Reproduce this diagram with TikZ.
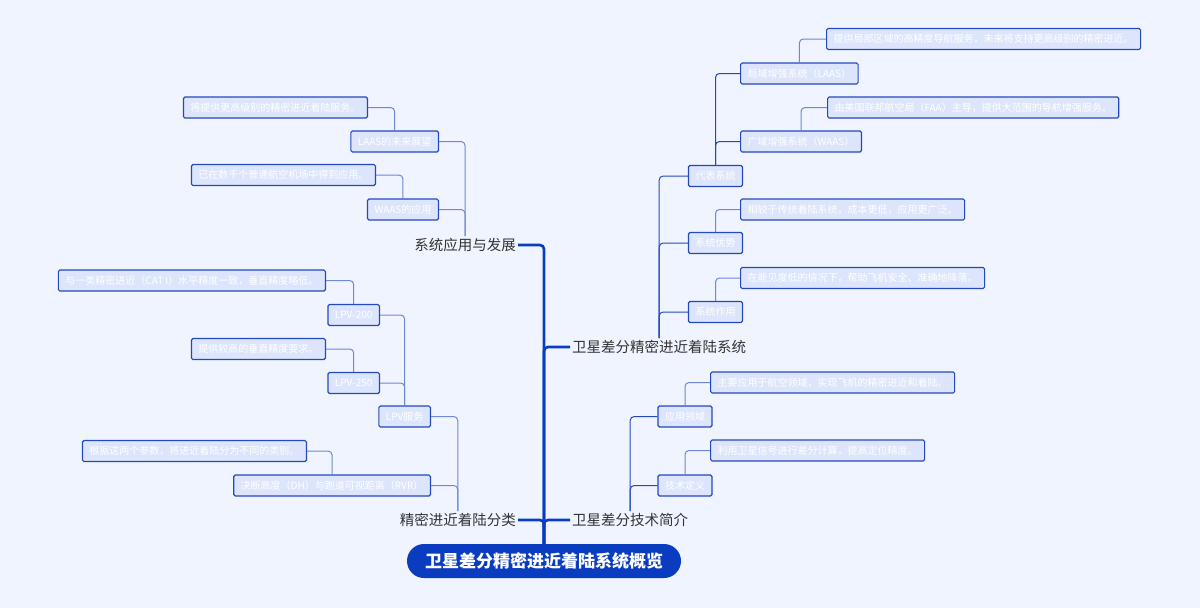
\documentclass[tikz,border=0pt]{standalone}
\usepackage{fontspec}
\setmainfont{Noto Sans CJK SC}
\begin{document}
\begin{tikzpicture}[x=1pt,y=-1pt,
  leaf/.style={draw=cB,line width=1.2pt,fill=cF,rounded corners=1.5pt,text=white,font=\fontsize{10}{12}\selectfont,minimum height=21pt,inner xsep=7pt,inner ysep=2pt},
  lbl/.style={text=black!80,font=\fontsize{14.5}{16}\selectfont,inner sep=2pt},
  trunk/.style={draw=cD,line width=2.6pt,rounded corners=4pt},
  conn/.style={draw=cL,line width=1pt,rounded corners=4pt},
  conn2/.style={draw=cB,line width=1pt,rounded corners=4pt}]
\definecolor{bg}{HTML}{F0F4FF}
\definecolor{cB}{HTML}{2448BE}
\definecolor{cF}{HTML}{DCE5FB}
\definecolor{cD}{HTML}{0A3CC0}
\definecolor{cL}{HTML}{6F88D2}
\fill[bg] (0,0) rectangle (1200,608);
\useasboundingbox (0,0) rectangle (1200,608);
% root
\node[fill=cD,text=white,rounded corners=17pt,minimum width=274pt,minimum height=34pt,font=\fontsize{17}{20}\selectfont\bfseries] (root) at (544,561) {卫星差分精密进近着陆系统概览};
% branch labels
\node[lbl,anchor=east] (A) at (518,245) {系统应用与发展};
\node[lbl,anchor=west] (B) at (570,347) {卫星差分精密进近着陆系统};
\node[lbl,anchor=east] (C) at (518,520) {精密进近着陆分类};
\node[lbl,anchor=west] (D) at (570,520) {卫星差分技术简介};
\foreach \n in {A,C}{\draw[trunk] (root.north) |- (\n.east);}
\foreach \n in {B,D}{\draw[trunk] (root.north) |- (\n.west);}
% B subtree
\node[leaf] (B1) at (715.5,176) {代表系统};
\node[leaf] (B2) at (715.5,243) {系统优势};
\node[leaf] (B3) at (715.5,312) {系统作用};
\node[leaf,anchor=west] (B11) at (740,73.5) {局域增强系统（LAAS）};
\node[leaf,anchor=west] (B12) at (740,141.5) {广域增强系统（WAAS）};
\node[leaf,anchor=west] (B111) at (826,39) {提供局部区域的高精度导航服务，未来将支持更高级别的精密进近。};
\node[leaf,anchor=west] (B121) at (827,107.5) {由美国联邦航空局（FAA）主导，提供大范围的导航增强服务。};
\node[leaf,anchor=west] (B21) at (740,209.5) {相较于传统着陆系统，成本更低，应用更广泛。};
\node[leaf,anchor=west] (B31) at (740,278) {在能见度低的情况下，帮助飞机安全、准确地降落。};
\foreach \n in {B1,B2,B3}{\draw[conn2] (B.north) |- (\n.west);}
\foreach \n in {B11,B12}{\draw[conn2] (B1.north) |- (\n.west);}
\draw[conn] (B11.north) |- (B111.west);
\draw[conn] (B12.north) |- (B121.west);
\draw[conn] (B2.north) |- (B21.west);
\draw[conn] (B3.north) |- (B31.west);
% D subtree
\node[leaf] (D1) at (685,416.5) {应用领域};
\node[leaf] (D2) at (685,485.5) {技术定义};
\node[leaf,anchor=west] (D11) at (710,382.5) {主要应用于航空领域，实现飞机的精密进近和着陆。};
\node[leaf,anchor=west] (D21) at (710,450.5) {利用卫星信号进行差分计算，提高定位精度。};
\foreach \n in {D1,D2}{\draw[conn2] (D.north) |- (\n.west);}
\draw[conn] (D1.north) |- (D11.west);
\draw[conn] (D2.north) |- (D21.west);
% A subtree
\node[leaf,anchor=east] (A1) at (439,141.5) {LAAS的未来展望};
\node[leaf,anchor=east] (A2) at (439,209.5) {WAAS的应用};
\node[leaf,anchor=east] (A11) at (368,107.5) {将提供更高级别的精密进近着陆服务。};
\node[leaf,anchor=east] (A21) at (376,175) {已在数千个普通航空机场中得到应用。};
\foreach \n in {A1,A2}{\draw[conn] (A.north) |- (\n.east);}
\draw[conn] (A1.north) |- (A11.east);
\draw[conn] (A2.north) |- (A21.east);
% C subtree
\node[leaf,anchor=east] (C1) at (431,416.5) {LPV服务};
\node[leaf,anchor=east] (C2) at (431,485.5) {决断高度（DH）与跑道可视距离（RVR）};
\node[leaf,anchor=east] (C11) at (380,315) {LPV-200};
\node[leaf,anchor=east] (C12) at (380,383) {LPV-250};
\node[leaf,anchor=east] (C111) at (326,280.5) {与一类精密进近（CAT I）水平精度一致，垂直精度略低。};
\node[leaf,anchor=east] (C121) at (326,349) {提供较高的垂直精度要求。};
\node[leaf,anchor=east] (C21) at (307,451) {根据这两个参数，将进近着陆分为不同的类别。};
\foreach \n in {C1,C2}{\draw[conn] (C.north) |- (\n.east);}
\foreach \n in {C11,C12}{\draw[conn] (C1.north) |- (\n.east);}
\draw[conn] (C11.north) |- (C111.east);
\draw[conn] (C12.north) |- (C121.east);
\draw[conn] (C2.north) |- (C21.east);
\end{tikzpicture}
\end{document}
